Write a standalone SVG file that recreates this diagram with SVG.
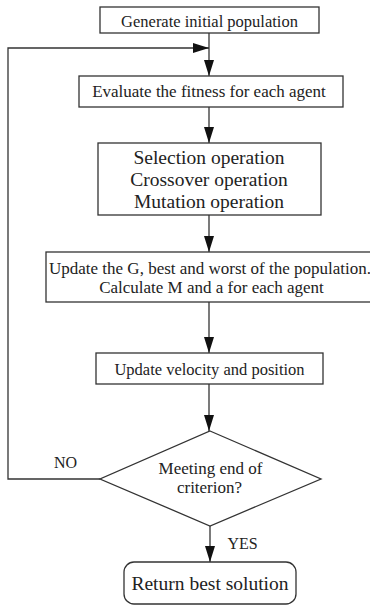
<svg xmlns="http://www.w3.org/2000/svg" width="370" height="605" viewBox="0 0 370 605">
<style>
.box{fill:#fff;stroke:#333;stroke-width:1.3}
.ln{fill:none;stroke:#333;stroke-width:1.3}
.t{font-family:"Liberation Serif","Times New Roman",serif;fill:#222;text-anchor:middle}
.s16{font-size:16px}
.s165{font-size:16.5px}
.s17{font-size:17px}
.s195{font-size:19.5px}
</style>
<defs>
<marker id="ah" markerUnits="userSpaceOnUse" markerWidth="17" markerHeight="11" refX="16" refY="5" orient="auto">
<path d="M0,0 L16,5 L0,10 z" fill="#111"/>
</marker>
</defs>
<rect width="370" height="605" fill="#fff"/>
<g id="connectors">
<line class="ln" x1="209" y1="33" x2="209" y2="76" marker-end="url(#ah)"/>
<polyline class="ln" points="100,479 8,479 8,48 209,48" marker-end="url(#ah)"/>
<line class="ln" x1="209" y1="107" x2="209" y2="143" marker-end="url(#ah)"/>
<line class="ln" x1="209" y1="215" x2="209" y2="252" marker-end="url(#ah)"/>
<line class="ln" x1="209" y1="302" x2="209" y2="353" marker-end="url(#ah)"/>
<line class="ln" x1="209" y1="384" x2="209" y2="431" marker-end="url(#ah)"/>
<line class="ln" x1="210" y1="526" x2="210" y2="562" marker-end="url(#ah)"/>
<text class="t s16" x="65.5" y="468">NO</text>
<text class="t s16" x="242.5" y="549">YES</text>
</g>
<g id="n1">
<rect class="box" x="100" y="7" width="219" height="26"/>
<text class="t s165" x="209.5" y="26.5">Generate initial population</text>
</g>
<g id="n2">
<rect class="box" x="79" y="76" width="264" height="31"/>
<text class="t s17" x="209" y="97">Evaluate the fitness for each agent</text>
</g>
<g id="n3">
<rect class="box" x="98" y="143" width="223" height="72"/>
<text class="t s195" x="209" y="164">Selection operation</text>
<text class="t s195" x="209" y="186">Crossover operation</text>
<text class="t s195" x="209" y="208">Mutation operation</text>
</g>
<g id="n4">
<rect class="box" x="46" y="252" width="330" height="50"/>
<text class="t s17" x="210" y="273.5">Update the G, best and worst of the population.</text>
<text class="t s17" x="211.5" y="293">Calculate M and a for each agent</text>
</g>
<g id="n5">
<rect class="box" x="96" y="353" width="227" height="31"/>
<text class="t s165" x="209.5" y="375">Update velocity and position</text>
</g>
<g id="n6">
<polygon class="box" points="210,431 321,479 210,526 100,479"/>
<text class="t s17" x="210.5" y="474">Meeting end of</text>
<text class="t s17" x="209.5" y="493">criterion?</text>
</g>
<g id="n7">
<rect class="box" x="124" y="562" width="172" height="42" rx="10"/>
<text class="t s195" x="210" y="590">Return best solution</text>
</g>
</svg>
